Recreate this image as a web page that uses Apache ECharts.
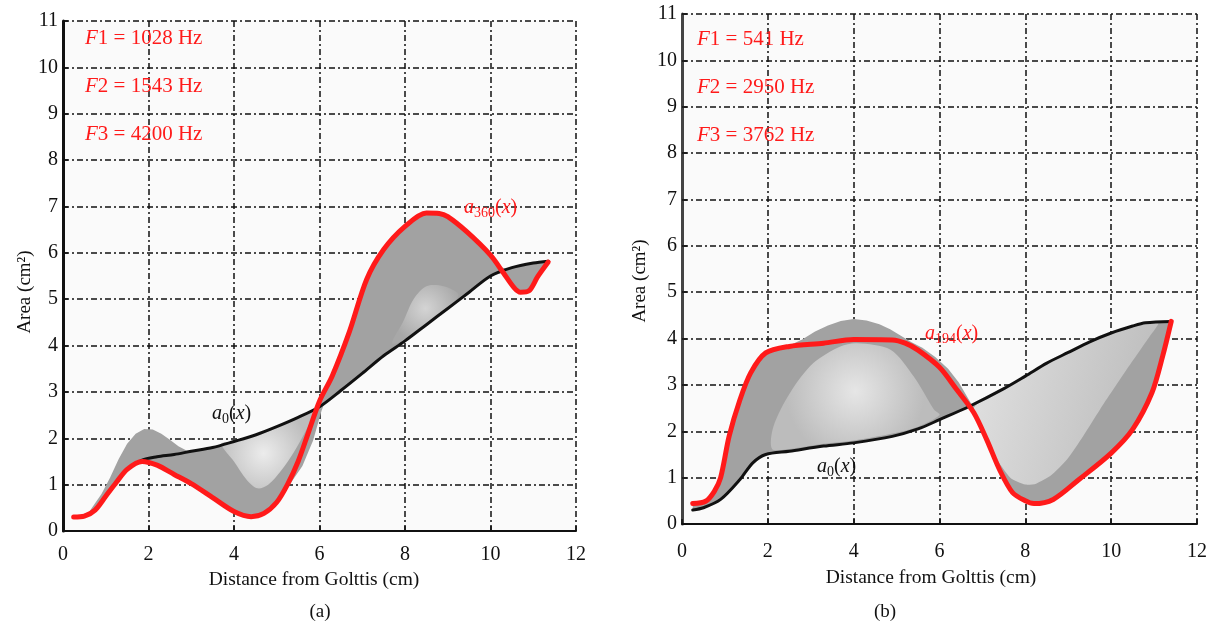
<!DOCTYPE html>
<html>
<head>
<meta charset="utf-8">
<script src="https://cdn.jsdelivr.net/npm/echarts@6/dist/echarts.min.js"></script>
<style>
html,body{margin:0;padding:0;background:#fff;}
#chart{width:1213px;height:626px;}
</style>
</head>
<body>
<div id="chart"></div>
<script>
// ---------- data ----------
const xTicksMax = 12, yTicksMax = 11;

// Panel (a)
const a0A = [[0.25,0.3],[0.5,0.32],[0.75,0.45],[1.0,0.75],[1.25,1.05],[1.5,1.33],[1.85,1.53],[2.2,1.6],[2.6,1.65],[3.0,1.72],[3.5,1.8],[4.0,1.93],[4.5,2.07],[5.0,2.25],[5.5,2.45],[6.0,2.68],[6.5,3.03],[7.0,3.4],[7.5,3.78],[8.0,4.1],[8.5,4.45],[9.0,4.8],[9.5,5.15],[10.0,5.5],[10.5,5.68],[11.0,5.78],[11.35,5.82]];
const a360A = [[0.25,0.3],[0.5,0.32],[0.75,0.45],[1.0,0.75],[1.25,1.05],[1.5,1.33],[1.85,1.5],[2.2,1.42],[2.6,1.22],[3.0,1.02],[3.5,0.72],[4.0,0.42],[4.4,0.31],[4.7,0.38],[5.0,0.62],[5.25,1.0],[5.5,1.5],[5.75,2.15],[6.0,2.8],[6.3,3.35],[6.7,4.3],[7.1,5.42],[7.5,6.07],[8.0,6.57],[8.5,6.86],[8.8,6.85],[9.0,6.78],[9.45,6.45],[10.0,5.95],[10.3,5.57],[10.55,5.25],[10.7,5.15],[10.9,5.18],[11.1,5.48],[11.35,5.8]];
const upperA = [[0.25,0.3],[0.6,0.4],[0.9,0.8],[1.1,1.15],[1.3,1.55],[1.5,1.88],[1.7,2.1],[1.9,2.2],[2.1,2.19],[2.3,2.1],[2.5,1.97],[2.7,1.83],[2.9,1.73],[3.0,1.72],[3.5,1.8],[4.0,1.93],[4.5,2.07],[5.0,2.25],[5.5,2.45],[5.9,2.62],[6.0,2.8],[6.3,3.35],[6.7,4.3],[7.1,5.42],[7.5,6.07],[8.0,6.57],[8.5,6.86],[8.8,6.85],[9.0,6.78],[9.45,6.45],[10.0,5.95],[10.2,5.7],[10.4,5.65],[10.7,5.72],[11.0,5.78],[11.35,5.82]];
const lowerA = [[0.25,0.3],[0.5,0.32],[0.75,0.45],[1.0,0.75],[1.25,1.05],[1.5,1.33],[1.85,1.5],[2.2,1.42],[2.6,1.22],[3.0,1.02],[3.5,0.72],[4.0,0.42],[4.4,0.31],[4.7,0.38],[5.0,0.62],[5.3,1.0],[5.6,1.4],[5.85,1.95],[6.05,2.6],[6.1,2.72],[6.5,3.03],[7.0,3.4],[7.5,3.78],[8.0,4.1],[8.5,4.45],[9.0,4.8],[9.5,5.15],[10.0,5.5],[10.3,5.57],[10.55,5.25],[10.7,5.15],[10.9,5.18],[11.1,5.48],[11.35,5.8]];
const lightA1 = [[3.7,1.88],[4.0,1.5],[4.3,1.1],[4.55,0.92],[4.8,1.0],[5.1,1.3],[5.4,1.7],[5.7,2.2],[5.9,2.6],[5.5,2.45],[5.0,2.25],[4.5,2.07],[4.0,1.93]];
const lightA2 = [[7.7,4.05],[7.95,4.5],[8.2,5.0],[8.5,5.28],[8.9,5.28],[9.25,5.1],[9.0,4.8],[8.5,4.45],[8.0,4.12]];
const formantsA = ['1028', '1543', '4200'];

// Panel (b)
const a0B = [[0.25,0.3],[0.5,0.35],[0.9,0.53],[1.35,0.96],[1.65,1.32],[1.95,1.5],[2.5,1.57],[3.3,1.68],[4.0,1.75],[4.9,1.89],[5.5,2.05],[6.0,2.25],[6.7,2.54],[7.5,2.92],[8.0,3.19],[8.5,3.47],[9.0,3.7],[9.5,3.93],[10.0,4.12],[10.5,4.27],[10.8,4.34],[11.4,4.37]];
const a194B = [[0.25,0.44],[0.55,0.49],[0.75,0.7],[0.9,1.0],[1.1,1.9],[1.35,2.68],[1.6,3.26],[1.95,3.69],[2.5,3.83],[3.3,3.9],[4.0,3.98],[4.9,3.97],[5.2,3.9],[5.5,3.75],[6.0,3.38],[6.4,2.9],[6.8,2.4],[7.1,1.82],[7.4,1.17],[7.7,0.68],[8.0,0.5],[8.2,0.44],[8.65,0.53],[9.25,0.96],[10.0,1.53],[10.5,2.04],[10.95,2.83],[11.2,3.62],[11.4,4.37]];
const upperB = [[0.25,0.44],[0.55,0.49],[0.75,0.7],[0.9,1.0],[1.1,1.9],[1.35,2.68],[1.6,3.26],[1.95,3.69],[2.5,3.85],[2.8,3.98],[3.1,4.15],[3.4,4.28],[3.7,4.38],[4.0,4.42],[4.3,4.39],[4.6,4.31],[4.85,4.2],[5.1,4.06],[5.35,3.92],[5.6,3.8],[5.9,3.6],[6.2,3.35],[6.45,3.05],[6.75,2.58],[7.5,2.92],[8.0,3.19],[8.5,3.47],[9.0,3.7],[9.5,3.93],[10.0,4.12],[10.5,4.27],[10.8,4.34],[11.4,4.37]];
const lowerB = [[0.25,0.3],[0.5,0.35],[0.9,0.53],[1.35,0.96],[1.65,1.32],[1.95,1.5],[2.5,1.57],[3.3,1.68],[4.0,1.75],[4.9,1.89],[5.5,2.05],[6.0,2.25],[6.7,2.54],[6.9,2.15],[7.2,1.55],[7.5,0.98],[7.8,0.6],[8.0,0.5],[8.2,0.44],[8.65,0.53],[9.25,0.96],[10.0,1.53],[10.5,2.04],[10.95,2.83],[11.2,3.62],[11.4,4.37]];
const lightB1 = [[2.1,1.62],[2.13,2.1],[2.52,2.83],[3.06,3.47],[3.69,3.83],[4.08,3.9],[4.86,3.76],[5.4,3.18],[5.87,2.47],[6.0,2.35],[5.5,2.1],[4.9,1.95],[4.0,1.8],[3.3,1.73],[2.5,1.62]];
const lightB2 = [[6.8,2.5],[7.0,2.05],[7.3,1.45],[7.65,1.0],[8.0,0.85],[8.25,0.87],[8.6,1.05],[8.97,1.39],[9.35,1.9],[9.74,2.47],[10.36,3.33],[10.9,4.05],[11.1,4.33],[10.8,4.34],[10.5,4.27],[10.0,4.12],[9.5,3.93],[9.0,3.7],[8.5,3.47],[8.0,3.19],[7.5,2.92],[7.0,2.67]];
const formantsB = ['541', '2950', '3762'];

// ---------- styling ----------
const FONT = '"Liberation Serif", "Times New Roman", serif';
const RED = '#ff1a1a';
const INK = '#111111';
const GRAY = '#a2a2a2';

const chart = echarts.init(document.getElementById('chart'), null, {renderer: 'canvas'});

const radial = (cx, cy, r, c0, c1) => new echarts.graphic.RadialGradient(cx, cy, r, [{offset: 0, color: c0}, {offset: 1, color: c1}]);
const linear = (x0, y0, x1, y1, c0, c1) => new echarts.graphic.LinearGradient(x0, y0, x1, y1, [{offset: 0, color: c0}, {offset: 1, color: c1}]);

function polygon(gi, pts, fill, z, smooth) {
  return {
    type: 'custom', xAxisIndex: gi, yAxisIndex: gi, data: [0], silent: true, z: z,
    renderItem: function (params, api) {
      return {type: 'polygon', shape: {points: pts.map(p => api.coord(p)), smooth: smooth || 0}, style: {fill: fill}};
    }
  };
}
function band(gi, up, lo, color, z) {
  return polygon(gi, up.concat(lo.slice().reverse()), color, z, 0);
}
function curve(gi, pts, color, width, z) {
  return {
    type: 'line', xAxisIndex: gi, yAxisIndex: gi, data: pts, showSymbol: false, silent: true,
    smooth: 0.3, z: z,
    lineStyle: {color: color, width: width, cap: 'round', join: 'round'}
  };
}
function xAx(gi, margin) {
  return {
    type: 'value', gridIndex: gi, min: 0, max: xTicksMax, interval: 2,
    axisLine: {show: true, onZero: false, lineStyle: {color: INK, width: 2}},
    axisTick: {show: true, inside: true, length: 5, lineStyle: {color: INK, width: 1.5}},
    axisLabel: {margin: margin, fontFamily: FONT, fontSize: 20, color: INK, showMinLabel: true, showMaxLabel: true},
    splitLine: {show: true, lineStyle: {type: [6, 3, 2, 3], color: INK, width: 1.5}}
  };
}
function yAx(gi) {
  return {
    type: 'value', gridIndex: gi, min: 0, max: yTicksMax, interval: 1,
    axisLine: {show: true, onZero: false, lineStyle: {color: gi === 0 ? INK : '#444', width: 3}},
    axisTick: {show: true, inside: true, length: 5, lineStyle: {color: INK, width: 1.5}},
    axisLabel: {margin: 5, fontFamily: FONT, fontSize: 20, color: INK, showMinLabel: true, showMaxLabel: true},
    splitLine: {show: true, lineStyle: {type: [6, 3, 2, 3], color: INK, width: 1.5}}
  };
}
function txt(x, y, text, rich) {
  return {
    type: 'text', x: x, y: y, z: 100, silent: true,
    style: {text: text, rich: rich, align: 'left', verticalAlign: 'middle', fontFamily: FONT, fontSize: 20, fill: INK}
  };
}
const fRich = {
  i: {fontFamily: FONT, fontSize: 21, fontStyle: 'italic', fill: RED},
  n: {fontFamily: FONT, fontSize: 21, fill: RED}
};
function aRich(color) {
  return {
    i: {fontFamily: FONT, fontSize: 20, fontStyle: 'italic', fill: color, lineHeight: 24},
    n: {fontFamily: FONT, fontSize: 20, fill: color, lineHeight: 24},
    s: {fontFamily: FONT, fontSize: 14, fill: color, lineHeight: 14, verticalAlign: 'bottom'}
  };
}
function plain(x, y, text, size, rot) {
  return {type: 'text', x: x, y: y, rotation: rot || 0, silent: true,
    style: {text: text, align: 'center', verticalAlign: 'middle', fontFamily: FONT, fontSize: size, fill: INK}};
}

const graphics = [];
formantsA.forEach((f, k) => graphics.push(txt(85, 38 + 48 * k, '{i|F}{n|' + (k + 1) + ' = ' + f + ' Hz}', fRich)));
formantsB.forEach((f, k) => graphics.push(txt(697, 39 + 48 * k, '{i|F}{n|' + (k + 1) + ' = ' + f + ' Hz}', fRich)));
graphics.push(txt(464, 208, '{i|a}{s|360}{n|(}{i|x}{n|)}', aRich(RED)));
graphics.push(txt(212, 414, '{i|a}{s|0}{n|(}{i|x}{n|)}', aRich(INK)));
graphics.push(txt(925, 334, '{i|a}{s|194}{n|(}{i|x}{n|)}', aRich(RED)));
graphics.push(txt(817, 467, '{i|a}{s|0}{n|(}{i|x}{n|)}', aRich(INK)));
graphics.push(plain(25, 292, 'Area (cm²)', 19, Math.PI / 2));
graphics.push(plain(640, 281, 'Area (cm²)', 19, Math.PI / 2));
graphics.push(plain(314, 580, 'Distance from Golttis (cm)', 19.5));
graphics.push(plain(931, 578, 'Distance from Golttis (cm)', 19.5));
graphics.push(plain(320, 612, '(a)', 19));
graphics.push(plain(885, 612, '(b)', 19));

const option = {
  backgroundColor: '#ffffff',
  animation: false,
  grid: [
    {left: 63, top: 21, width: 513, height: 510, show: true, backgroundColor: '#fafafa', borderWidth: 0},
    {left: 682, top: 14, width: 515, height: 510, show: true, backgroundColor: '#fafafa', borderWidth: 0}
  ],
  xAxis: [xAx(0, 14), xAx(1, 18)],
  yAxis: [yAx(0), yAx(1)],
  series: [
    band(0, upperA, lowerA, GRAY, 2),
    polygon(0, lightA1, radial(0.45, 0.55, 0.6, '#ececec', '#bdbdbd'), 3, 0.3),
    polygon(0, lightA2, radial(0.5, 0.4, 0.6, '#d4d4d4', '#a8a8a8'), 3, 0.3),
    curve(0, a0A, INK, 3, 5),
    curve(0, a360A, RED, 5, 6),
    band(1, upperB, lowerB, GRAY, 2),
    polygon(1, lightB1, radial(0.5, 0.45, 0.65, '#e6e6e6', '#bcbcbc'), 3, 0.3),
    polygon(1, lightB2, linear(0, 0, 1, 0.3, '#e2e2e2', '#bdbdbd'), 3, 0.2),
    curve(1, a0B, INK, 3, 5),
    curve(1, a194B, RED, 5, 6)
  ],
  graphic: graphics
};
chart.setOption(option);
</script>
</body>
</html>
